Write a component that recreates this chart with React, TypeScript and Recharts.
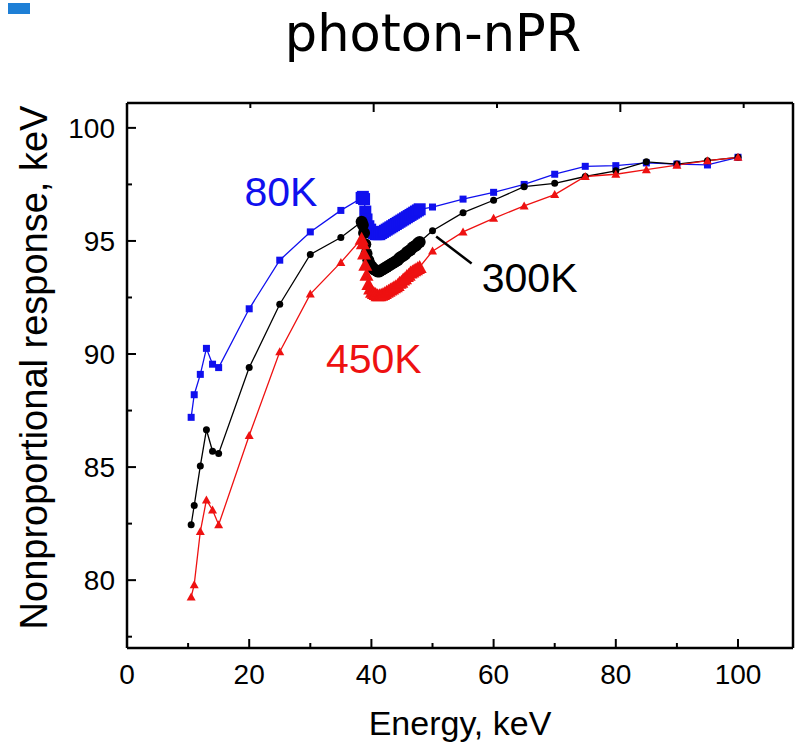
import { LineChart, Line, XAxis, YAxis, ReferenceLine, ReferenceDot } from 'recharts'

// photon energies, keV (dense steps around the K-edge)
const energies = [
  10.5, 11, 12, 13, 14, 15, 20, 25, 30, 35,
  38.4, 38.6, 38.8, 39.0, 39.2, 39.5, 39.8, 40.1, 40.4, 40.7, 41.0, 41.3, 41.6, 41.9, 42.2, 42.5, 42.8,
  43.1, 43.4, 43.7, 44.0, 44.3, 44.6, 44.9, 45.2, 45.5, 45.8, 46.1, 46.4, 46.7, 47.0, 47.3, 47.6, 47.9,
  50, 55, 60, 65, 70, 75, 80, 85, 90, 95, 100,
]

const resp80K = [
  87.2, 88.2, 89.1, 90.25, 89.55, 89.4, 92.0, 94.15, 95.4, 96.35,
  96.9, 96.95, 96.85, 96.3, 95.95, 95.65, 95.5, 95.4, 95.35, 95.3, 95.3, 95.3, 95.35, 95.4, 95.45, 95.5, 95.55,
  95.6, 95.65, 95.7, 95.75, 95.8, 95.85, 95.9, 95.95, 96.0, 96.05, 96.1, 96.15, 96.2, 96.25, 96.3, 96.35, 96.4,
  96.5, 96.85, 97.15, 97.5, 97.95, 98.3, 98.33, 98.45, 98.4, 98.36, 98.7,
]

const resp300K = [
  82.45, 83.3, 85.05, 86.65, 85.7, 85.6, 89.4, 92.2, 94.4, 95.15,
  95.85, 95.7, 95.35, 94.85, 94.45, 94.15, 93.95, 93.85, 93.75, 93.7, 93.65, 93.65, 93.7, 93.75, 93.8, 93.85, 93.9,
  93.95, 94.0, 94.05, 94.1, 94.15, 94.25, 94.3, 94.35, 94.4, 94.5, 94.55, 94.6, 94.7, 94.75, 94.8, 94.9, 94.95,
  95.45, 96.25, 96.8, 97.4, 97.55, 97.85, 98.1, 98.5, 98.4, 98.55, 98.7,
]

const resp450K = [
  79.25, 79.8, 82.15, 83.55, 83.1, 82.45, 86.4, 90.1, 92.65, 94.05,
  95.1, 94.9, 94.45, 93.95, 93.5, 93.1, 92.9, 92.75, 92.7, 92.65, 92.6, 92.6, 92.62, 92.65, 92.7, 92.75, 92.8,
  92.85, 92.9, 92.95, 93.0, 93.05, 93.15, 93.2, 93.3, 93.35, 93.45, 93.5, 93.6, 93.65, 93.7, 93.75, 93.8, 93.85,
  94.55, 95.4, 96.0, 96.55, 97.05, 97.85, 97.95, 98.15, 98.35, 98.55, 98.7,
]

const xTicks = [0, 10, 20, 30, 40, 50, 60, 70, 80, 90, 100]
const yTicks = [77.5, 80, 82.5, 85, 87.5, 90, 92.5, 95, 97.5, 100]

const data = energies.map((e, i) => ({
  e,
  k80: resp80K[i],
  k300: resp300K[i],
  k450: resp450K[i],
}))

const FONT = '"Liberation Sans", Arial, sans-serif'
const BLUE = '#1010ee'
const RED = '#ee1111'

// points that sit close to a neighbour are drawn bigger (they merge into a band)
function isDense(i: number) {
  const prev = i > 0 ? energies[i] - energies[i - 1] : 99
  const next = i < energies.length - 1 ? energies[i + 1] - energies[i] : 99
  return Math.min(prev, next) < 0.45
}

function makeDot(shape: 'square' | 'circle' | 'triangle', color: string) {
  return (props: any) => {
    const { cx, cy, index } = props
    if (cx == null || cy == null) return <g key={index} />
    const s = isDense(index) ? 12 : 7
    if (shape === 'square')
      return <rect key={index} x={cx - s / 2} y={cy - s / 2} width={s} height={s} fill={color} />
    if (shape === 'circle') return <circle key={index} cx={cx} cy={cy} r={s / 2} fill={color} />
    const t = s + 2
    const pts = `${cx},${cy - t / 2} ${cx - t / 2},${cy + t / 2 - 1} ${cx + t / 2},${cy + t / 2 - 1}`
    return <polygon key={index} points={pts} fill={color} />
  }
}

const BottomTick = (props: any) => {
  const { x, y, payload } = props
  const major = payload.value % 20 === 0
  return (
    <g>
      <line x1={x} x2={x} y1={y} y2={y - (major ? 9 : 5)} stroke="#000" strokeWidth={2} />
      {major && (
        <text x={x} y={y + 36} textAnchor="middle" fontSize={28} fontFamily={FONT} fill="#000">
          {payload.value}
        </text>
      )}
    </g>
  )
}

const TopTick = (props: any) => {
  const { x, y, payload } = props
  const major = payload.value % 20 === 0
  return <line x1={x} x2={x} y1={y} y2={y + (major ? 9 : 5)} stroke="#000" strokeWidth={2} />
}

const LeftTick = (props: any) => {
  const { x, y, payload } = props
  const major = payload.value % 5 === 0
  return (
    <g>
      <line x1={x} x2={x + (major ? 9 : 5)} y1={y} y2={y} stroke="#000" strokeWidth={2} />
      {major && (
        <text x={x - 12} y={y + 10} textAnchor="end" fontSize={28} fontFamily={FONT} fill="#000">
          {payload.value}
        </text>
      )}
    </g>
  )
}

const RightTick = (props: any) => {
  const { x, y, payload } = props
  const major = payload.value % 5 === 0
  return <line x1={x} x2={x - (major ? 9 : 5)} y1={y} y2={y} stroke="#000" strokeWidth={2} />
}

const YTitle = (props: any) => {
  const vb = props.viewBox
  const cy = vb.y + vb.height / 2 - 8
  return (
    <text
      transform={`translate(${vb.x + vb.width - 80}, ${cy}) rotate(-90)`}
      textAnchor="middle"
      fontSize={38}
      fontFamily={FONT}
      fill="#000"
    >
      Nonproportional response, keV
    </text>
  )
}

const axisStroke = { stroke: '#000', strokeWidth: 2.5 }

export default function App() {
  return (
    <div style={{ position: 'absolute', left: 0, top: 0, width: 796, height: 746, background: '#fff' }}>
      <div style={{ position: 'absolute', left: 8, top: 3, width: 22, height: 11, background: '#1e7fd6' }} />
      <div
        style={{
          position: 'absolute',
          left: 433,
          top: 8,
          transform: 'translateX(-50%)',
          fontFamily: '"DejaVu Sans", sans-serif',
          fontSize: 51,
          lineHeight: '51px',
          whiteSpace: 'nowrap',
          color: '#000',
        }}
      >
        photon-nPR
      </div>
      <LineChart width={796} height={746} data={data} margin={{ top: 102, right: 2, bottom: 97, left: 126 }}>
        <XAxis
          dataKey="e"
          type="number"
          domain={[0, 109]}
          ticks={xTicks}
          interval={0}
          height={1}
          tickSize={0}
          tickMargin={0}
          tickLine={false}
          axisLine={axisStroke}
          tick={(p: any) => <BottomTick {...p} />}
          label={{ value: 'Energy, keV', position: 'bottom', offset: 62, fontSize: 34, fill: '#000', fontFamily: FONT }}
        />
        <XAxis
          xAxisId="top"
          orientation="top"
          type="number"
          domain={[0, 109]}
          ticks={xTicks}
          interval={0}
          height={1}
          tickSize={0}
          tickMargin={0}
          tickLine={false}
          axisLine={axisStroke}
          tick={(p: any) => <TopTick {...p} />}
        />
        <YAxis
          type="number"
          domain={[77, 101.1]}
          ticks={yTicks}
          interval={0}
          width={1}
          tickSize={0}
          tickMargin={0}
          tickLine={false}
          axisLine={axisStroke}
          tick={(p: any) => <LeftTick {...p} />}
          label={{ content: (p: any) => <YTitle {...p} /> }}
        />
        <YAxis
          yAxisId="right"
          orientation="right"
          type="number"
          domain={[77, 101.1]}
          ticks={yTicks}
          interval={0}
          width={1}
          tickSize={0}
          tickMargin={0}
          tickLine={false}
          axisLine={axisStroke}
          tick={(p: any) => <RightTick {...p} />}
        />
        <Line
          dataKey="k80"
          stroke={BLUE}
          strokeWidth={1.3}
          dot={makeDot('square', BLUE)}
          activeDot={false}
          isAnimationActive={false}
        />
        <Line
          dataKey="k300"
          stroke="#000"
          strokeWidth={1.3}
          dot={makeDot('circle', '#000')}
          activeDot={false}
          isAnimationActive={false}
        />
        <Line
          dataKey="k450"
          stroke={RED}
          strokeWidth={1.3}
          dot={makeDot('triangle', RED)}
          activeDot={false}
          isAnimationActive={false}
        />
        <ReferenceLine segment={[{ x: 50.6, y: 95.2 }, { x: 56.4, y: 94.0 }]} stroke="#000" strokeWidth={2.5} />
        <ReferenceDot x={25.2} y={97.2} r={0} label={{ value: '80K', position: 'center', fill: BLUE, fontSize: 41, fontFamily: FONT }} />
        <ReferenceDot x={65.9} y={93.4} r={0} label={{ value: '300K', position: 'center', fill: '#000', fontSize: 41, fontFamily: FONT }} />
        <ReferenceDot x={40.4} y={89.8} r={0} label={{ value: '450K', position: 'center', fill: RED, fontSize: 41, fontFamily: FONT }} />
      </LineChart>
    </div>
  )
}
